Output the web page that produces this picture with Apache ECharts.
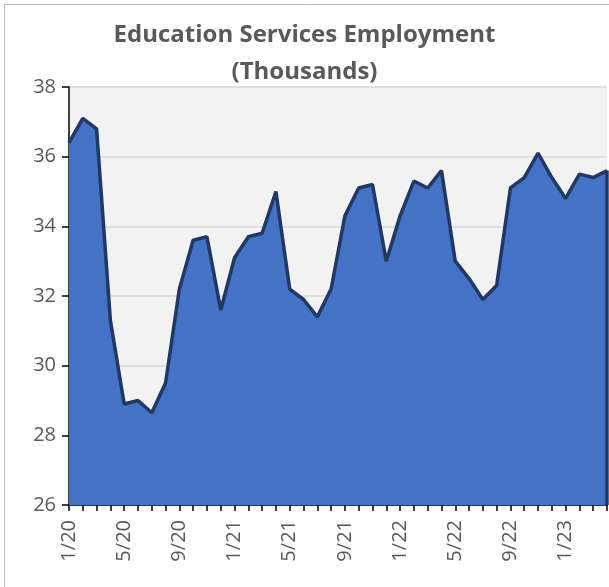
<!DOCTYPE html>
<html>
	<head>
		<meta charset="utf-8" />
		<title></title>
		<script type="text/javascript" src="https://cdn.jsdelivr.net/npm/echarts@6/dist/echarts.min.js"></script>
		<style>
			html, body { margin: 0; padding: 0; background: #fff; }
		</style>
	</head>
	<body>
		<div id="main" style="width: 609px;height: 587px;"></div>
		<script type="text/javascript">
    // monthly, 1/20 .. 4/23
    var months = [
      '1/20','2/20','3/20','4/20','5/20','6/20','7/20','8/20','9/20','10/20','11/20','12/20',
      '1/21','2/21','3/21','4/21','5/21','6/21','7/21','8/21','9/21','10/21','11/21','12/21',
      '1/22','2/22','3/22','4/22','5/22','6/22','7/22','8/22','9/22','10/22','11/22','12/22',
      '1/23','2/23','3/23','4/23'
    ];
    var employment = [
      36.4, 37.1, 36.8, 31.3, 28.9, 29.0, 28.65, 29.5, 32.2, 33.6, 33.7, 31.6,
      33.1, 33.7, 33.8, 35.0, 32.2, 31.9, 31.4, 32.2, 34.3, 35.1, 35.2, 33.0,
      34.3, 35.3, 35.1, 35.6, 33.0, 32.5, 31.9, 32.3, 35.1, 35.4, 36.1, 35.4,
      34.8, 35.5, 35.4, 35.6
    ];
    var titleLines = ['Education Services Employment', '(Thousands)'];

    var font = 'Open Sans';
    var textColor = '#595959';
    var lastMonth = months[months.length - 1];
    var lastValue = employment[employment.length - 1];

	var myChart = echarts.init(document.getElementById('main'));
    var option = {
      animation: false,
      graphic: [{
        type: 'rect',
        shape: { x: 4.5, y: 4.5, width: 620, height: 620 },
        style: { fill: 'none', stroke: '#bfbfbf', lineWidth: 1 },
        silent: true
      }],
      title: {
        text: titleLines.join('\n'),
        left: 'center',
        top: 12,
        textStyle: {
          fontFamily: font,
          fontSize: 24,
          fontWeight: 'bold',
          color: textColor,
          lineHeight: 37
        }
      },
      grid: {
        left: 69,
        right: 2,
        top: 87,
        bottom: 82,
        show: true,
        backgroundColor: '#f2f2f2',
        borderWidth: 0
      },
      xAxis: {
        type: 'category',
        data: months,
        boundaryGap: false,
        axisLine: { lineStyle: { color: '#000', width: 1.5 } },
        axisTick: { interval: 0, length: 6, lineStyle: { color: '#000', width: 1.5 } },
        axisLabel: {
          interval: 3,
          rotate: 90,
          margin: 15,
          fontFamily: font,
          fontSize: 20,
          color: textColor
        },
        splitLine: { show: false }
      },
      yAxis: {
        type: 'value',
        min: 26,
        max: 38,
        interval: 2,
        axisLine: { show: true, lineStyle: { color: '#000', width: 1.5 } },
        axisTick: { show: true, length: 7, lineStyle: { color: '#000', width: 1.5 } },
        axisLabel: {
          margin: 13,
          fontFamily: font,
          fontSize: 20,
          color: textColor
        },
        splitLine: { lineStyle: { color: '#d9d9d9', width: 1.5 } }
      },
      series: [{
        type: 'line',
        data: employment,
        symbol: 'none',
        lineStyle: { color: '#203864', width: 3.5 },
        areaStyle: { color: '#4472c4', opacity: 1 },
        z: 2,
        // dark edge closing the area on the right
        markLine: {
          silent: true,
          symbol: 'none',
          label: { show: false },
          lineStyle: { color: '#203864', width: 3.5, type: 'solid' },
          data: [[
            { coord: [lastMonth, 26] },
            { coord: [lastMonth, lastValue] }
          ]]
        }
      }]
    };
    myChart.setOption(option);
	</script>
	</body>
</html>
